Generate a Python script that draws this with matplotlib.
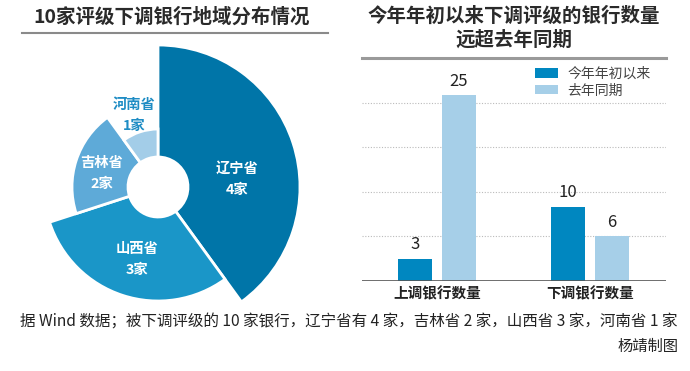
import numpy as np
import matplotlib.pyplot as plt
from matplotlib.patches import Wedge

plt.rcParams['font.family'] = ['Noto Sans CJK SC', 'DejaVu Sans']

# 地域分布数据
provinces = ['辽宁省', '山西省', '吉林省', '河南省']
bank_counts = [4, 3, 2, 1]
pie_colors = ['#0075a8', '#1a96c8', '#5eaad8', '#a3cde8']

# 上调/下调银行数量
bar_cats = ['上调银行数量', '下调银行数量']
this_year = [3, 10]
last_year = [25, 6]
series_names = ['今年年初以来', '去年同期']

W, H = 690, 371
fig = plt.figure(figsize=(W / 100, H / 100), dpi=100)

# 覆盖整张图的坐标系，单位为像素（y 向上）
ov = fig.add_axes([0, 0, 1, 1])
ov.set_xlim(0, W)
ov.set_ylim(0, H)
ov.axis('off')


def py(y):
    return H - y


# ===== 左侧：南丁格尔式玫瑰饼图 =====
cx, cy = 158, py(187)
hole = 30
px_per_bank = 28
total = sum(bank_counts)
start = 90
for name, v, c in zip(provinces, bank_counts, pie_colors):
    span = 360 * v / total
    r = hole + px_per_bank * v
    w = Wedge((cx, cy), r, start - span, start, width=r - hole,
              facecolor=c, edgecolor='white', linewidth=2)
    ov.add_patch(w)
    start -= span

label_pos = {'辽宁省': (237, 179), '山西省': (137, 259),
             '吉林省': (102, 173), '河南省': (134, 115)}
for name, v in zip(provinces, bank_counts):
    x, y = label_pos[name]
    col = '#1e8cc4' if name == '河南省' else 'white'
    ov.text(x, py(y - 10), name, ha='center', va='center', fontsize=10.3,
            fontweight='bold', color=col)
    ov.text(x, py(y + 11), f'{v}家', ha='center', va='center', fontsize=10.3,
            fontweight='bold', color=col)

ov.text(172, py(17), '10家评级下调银行地域分布情况', ha='center', va='center',
        fontsize=14, fontweight='bold', color='#2a2a2a')
ov.plot([22, 328], [py(33), py(33)], color='#8a8a8a', lw=1.5)

# ===== 右侧：柱状图 =====
ov.text(514, py(16), '今年年初以来下调评级的银行数量', ha='center', va='center',
        fontsize=14, fontweight='bold', color='#2a2a2a')
ov.text(514, py(40), '远超去年同期', ha='center', va='center',
        fontsize=14, fontweight='bold', color='#2a2a2a')
ov.plot([362, 666], [py(58), py(58)], color='#9a9a9a', lw=2.2)

ax = fig.add_axes([362 / W, (H - 281) / H, 304 / W, 223 / H])
ax.patch.set_alpha(0)
x = np.arange(len(bar_cats))
bw = 0.222
off = 0.142
b1 = ax.bar(x - off, this_year, bw, color='#0087c0', label=series_names[0], zorder=3)
b2 = ax.bar(x + off, last_year, bw, color='#a6cfe8', label=series_names[1], zorder=3)
for bars, vals in ((b1, this_year), (b2, last_year)):
    for b, v in zip(bars, vals):
        ax.text(b.get_x() + b.get_width() / 2, v + 0.7, str(v), ha='center',
                va='bottom', fontsize=12, color='#222222')

ax.set_xlim(-0.49, 1.497)
ax.set_ylim(0, 30)
for g in [6, 12, 18, 24]:
    ax.axhline(g, color='#bbbbbb', lw=0.8, ls=(0, (1, 1.5)), zorder=1)
ax.axhline(0, color='#555555', lw=1.2, zorder=4)
for s in ax.spines.values():
    s.set_visible(False)
ax.set_yticks([])
ax.set_xticks(x)
ax.set_xticklabels(bar_cats, fontsize=10.5, fontweight='bold', color='#222222')
ax.tick_params(axis='x', length=0, pad=3)

ax.legend(loc='upper left', bbox_to_anchor=(535 / W, 1 - 67 / H),
          bbox_transform=fig.transFigure, frameon=False, fontsize=10,
          handlelength=1.65, handleheight=0.65, handletextpad=0.7,
          labelspacing=0.18, borderpad=0, borderaxespad=0, labelcolor='#444444')

# ===== 底部说明 =====
ov.text(678, py(322), '据 Wind 数据；被下调评级的 10 家银行，辽宁省有 4 家，吉林省 2 家，山西省 3 家，河南省 1 家',
        ha='right', va='center', fontsize=11.2, color='#222222')
ov.text(678, py(346), '杨靖制图', ha='right', va='center', fontsize=11, color='#222222')

fig.savefig('out.png', dpi=100)
